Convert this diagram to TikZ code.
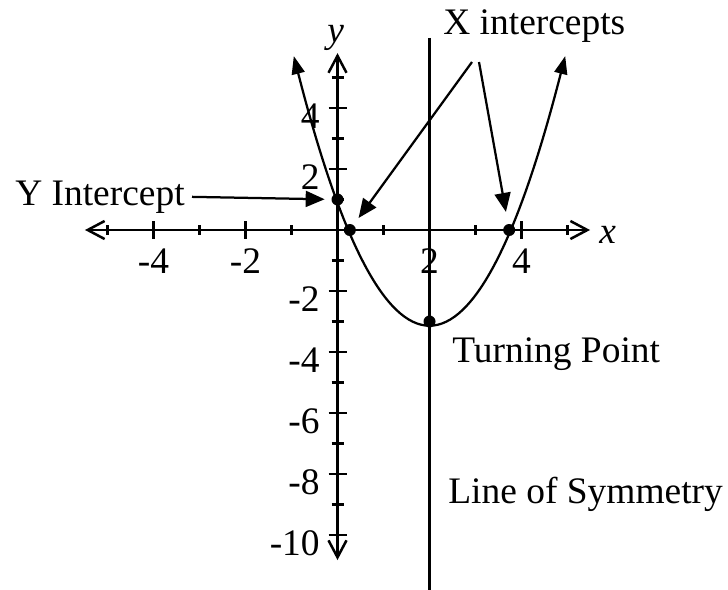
\documentclass[tikz,border=0pt]{standalone}
\usepackage{fontspec}
\setmainfont{Liberation Serif}
\usetikzlibrary{arrows.meta}
\begin{document}
\begin{tikzpicture}[
  every node/.style={inner sep=0pt, font=\fontsize{21.3}{25}\selectfont},
  thinline/.style={line width=0.045cm},
  axisline/.style={line width=0.05cm, {Straight Barb[length=0.34cm,width=0.36cm]}-{Straight Barb[length=0.34cm,width=0.36cm]}},
  ptr/.style={line width=0.045cm, -{Triangle[length=0.38cm,width=0.32cm]}},
  curvearrows/.style={line width=0.045cm, {Triangle[length=0.36cm,width=0.26cm]}-{Triangle[length=0.36cm,width=0.26cm]}},
  tickline/.style={line width=0.045cm},
  dot/.style={circle, fill=black, minimum size=0.24cm, inner sep=0pt}
]
\useasboundingbox (0,0) rectangle (14.56,-11.78);

\begin{scope}[shift={(6.75,-4.6)}, x=0.92cm, y=0.61cm]
  % axes
  \draw[axisline] (-5.49,0) -- (5.49,0);
  \draw[axisline] (0,5.8) -- (0,-10.82);
  % x ticks
  \foreach \i in {-4,-2,2,4} {
    \draw[tickline] (\i,0) ++(0,0.18cm) -- ++(0,-0.36cm);
    \node[anchor=base] (xt\i) at (\i,-1.41) {\i};
  }
  \foreach \i in {-5,-3,-1,1,3,5} {
    \draw[tickline] (\i,0) ++(0,0.1cm) -- ++(0,-0.2cm);
  }
  % y ticks
  \foreach \i in {-10,-8,-6,-4,-2,2,4} {
    \draw[tickline] (0,\i) ++(-0.18cm,0) -- ++(0.36cm,0);
    \node[anchor=base east] (yt\i) at (-0.38,\i-0.66) {\i};
  }
  \foreach \i in {-9,-7,-5,-3,-1,1,3,5} {
    \draw[tickline] (0,\i) ++(-0.12cm,0) -- ++(0.24cm,0);
  }
  % line of symmetry
  \draw[thinline] (2,6.3) -- (2,-11.8);
  % parabola y = (x-2)^2 - 3 as an exact quadratic Bezier
  \draw[curvearrows] (-0.95,5.7025) .. controls (1.01667,-5.90083) and (2.98333,-5.90083) .. (4.95,5.7025);
  % points
  \node[dot] (yint) at (0,1) {};
  \node[dot] (xint1) at (0.268,0) {};
  \node[dot] (xint2) at (3.732,0) {};
  \node[dot] (tp) at (2,-3) {};
\end{scope}

% labels
\node[anchor=base west] (ylabel) at (6.54,-0.86) {\itshape y};
\node[anchor=base west] (xlabel) at (11.98,-4.86) {\itshape x};
\node[anchor=base east] (ylab) at (3.70,-4.10) {Y Intercept};
\node[anchor=base west] (xlab) at (8.86,-0.70) {X intercepts};
\node[anchor=base west] (tplab) at (9.04,-7.24) {Turning Point};
\node[anchor=base west] (loslab) at (8.96,-10.06) {Line of Symmetry};

\coordinate (xs1) at (9.44,-1.24);
\coordinate (xs2) at (9.58,-1.24);

\draw[ptr, shorten <=0.14cm, shorten >=0.13cm] (ylab.east) -- (yint);
\draw[ptr, shorten >=0.17cm] (xs1) -- (xint1);
\draw[ptr, shorten >=0.24cm] (xs2) -- (xint2);
\end{tikzpicture}
\end{document}
